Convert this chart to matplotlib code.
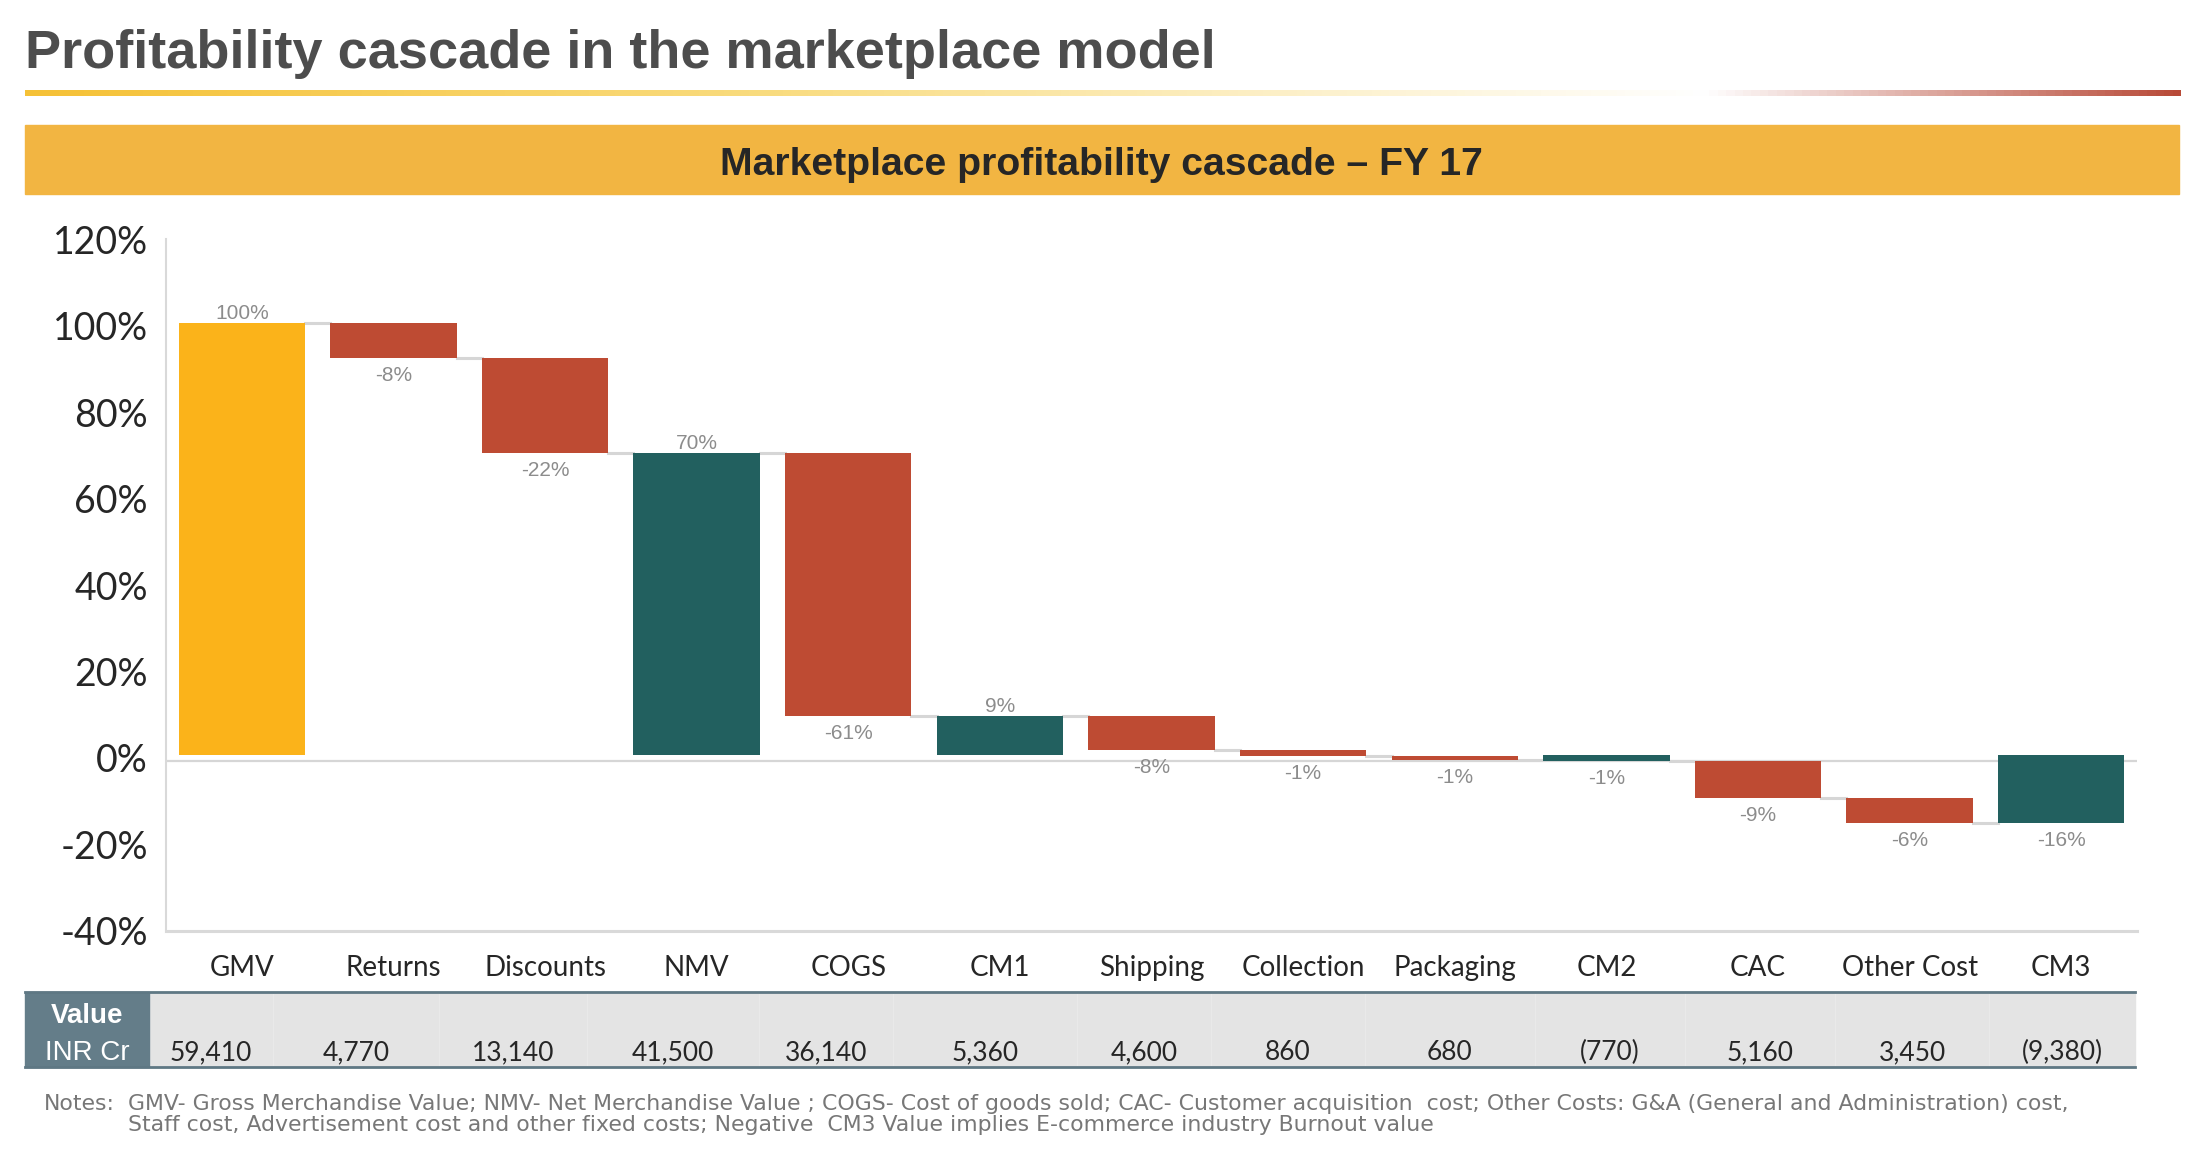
#Profitability cascade in the marketplace model (waterfall + value table)
import numpy as np
import matplotlib.pyplot as plt
from matplotlib.patches import Rectangle
from matplotlib.colors import LinearSegmentedColormap

#data
categories = ['GMV', 'Returns', 'Discounts', 'NMV', 'COGS', 'CM1', 'Shipping',
              'Collection', 'Packaging', 'CM2', 'CAC', 'Other Cost', 'CM3']
#share of GMV in %
pct = [100, -8.0, -22.1, 69.9, -60.8, 9.0, -7.7, -1.4, -1.1, -1.3, -8.7, -5.8, -15.8]
is_total = [True, False, False, True, False, True, False, False, False, True, False, False, True]
pct_labels = ['100%', '-8%', '-22%', '70%', '-61%', '9%', '-8%',
              '-1%', '-1%', '-1%', '-9%', '-6%', '-16%']
inr_values = ['59,410', '4,770', '13,140', '41,500', '36,140', '5,360', '4,600',
              '860', '680', '(770)', '5,160', '3,450', '(9,380)']
yticks = [-40, -20, 0, 20, 40, 60, 80, 100, 120]

title = 'Profitability cascade in the marketplace model'
banner = 'Marketplace profitability cascade \u2013 FY 17'
notes_1 = ('GMV- Gross Merchandise Value; NMV- Net Merchandise Value ; COGS- Cost of goods sold; '
           'CAC- Customer acquisition  cost; Other Costs: G&A (General and Administration) cost,')
notes_2 = 'Staff cost, Advertisement cost and other fixed costs; Negative  CM3 Value implies E-commerce industry Burnout value'

#in the original the bars sit slightly above the axis line
base = 0.6
axis_line = -0.8

#colours
yellow = '#FBB31A'
red = '#BE4B33'
teal = '#22605F'
grey_line = '#D6D6D6'
label_grey = '#8C8C8C'
dark = '#262626'

#figure in pixel units
W, H = 2204, 1150
fig = plt.figure(figsize=(W / 100, H / 100), dpi=100)
fig.patch.set_facecolor('white')

deco = fig.add_axes([0, 0, 1, 1])
deco.set_xlim(0, W)
deco.set_ylim(H, 0)
deco.axis('off')

#title and gradient rule under it
deco.text(25, 68, title, fontsize=39, fontweight='bold', color='#4D4D4D',
          family='Liberation Sans', va='baseline', ha='left')
grad_cmap = LinearSegmentedColormap.from_list(
    'rule', [(0.0, '#F5C136'), (0.35, '#F9DC80'), (0.55, '#FCEDBE'),
             (0.78, '#FFFFFF'), (1.0, '#B84A38')])
deco.imshow(np.linspace(0, 1, 512).reshape(1, -1), cmap=grad_cmap, aspect='auto',
            extent=[25, 2181, 96, 90], zorder=2)

#orange banner
deco.add_patch(Rectangle((25, 125), 2154, 69, color='#F2B542', zorder=1))
deco.text(1101, 175, banner, fontsize=28.2, fontweight='bold', color=dark,
          family='Liberation Sans', ha='center', va='baseline', zorder=3)

#value table below the chart
col_edges = [149, 273, 439, 587, 759, 893, 1077, 1211, 1365, 1535, 1685, 1835, 1989, 2135]
deco.add_patch(Rectangle((149, 992), 2135 - 149, 75, color='#E4E4E4', zorder=1))
deco.add_patch(Rectangle((25, 992), 149 - 25, 75, color='#647D89', zorder=1))
for xe in col_edges[1:-1]:
    deco.plot([xe, xe], [994, 1065], color='#E9E9E9', lw=1, zorder=2)
deco.plot([25, 2135], [992, 992], color='#5F7884', lw=2, zorder=3)
deco.plot([25, 2135], [1067, 1067], color='#5F7884', lw=2, zorder=3)
deco.text(87, 1023, 'Value', fontsize=20, fontweight='bold', color='white',
          family='Liberation Sans', ha='center', va='baseline', zorder=4)
deco.text(87, 1060, 'INR Cr', fontsize=20, color='white',
          family='Liberation Sans', ha='center', va='baseline', zorder=4)
for i, val in enumerate(inr_values):
    xc = (col_edges[i] + col_edges[i + 1]) / 2
    deco.text(xc, 1060, val, fontsize=19, color=dark, family='Lato',
              ha='center', va='baseline', zorder=4)

#notes
deco.text(44, 1110, 'Notes:', fontsize=15.8, color='#777777', family='DejaVu Sans', va='baseline')
deco.text(128, 1110, notes_1, fontsize=15.8, color='#777777', family='DejaVu Sans', va='baseline')
deco.text(128, 1131, notes_2, fontsize=15.8, color='#777777', family='DejaVu Sans', va='baseline')

#waterfall chart
ax = fig.add_axes([166 / W, 1 - 930.6 / H, (2137 - 166) / W, (930.6 - 239.4) / H])
ax.set_xlim(-0.5, len(categories) - 0.5)
ax.set_ylim(-40, 120)

starts, ends = [], []
level = 0
for v, tot in zip(pct, is_total):
    s = 0 if tot else level
    e = s + v
    starts.append(s)
    ends.append(e)
    level = e

x = np.arange(len(categories))
width = 0.834
colors = [yellow if i == 0 else (teal if t else red) for i, t in enumerate(is_total)]
bottoms = [base + min(s, e) for s, e in zip(starts, ends)]
heights = [abs(v) for v in pct]
ax.bar(x, heights, width=width, bottom=bottoms, color=colors, zorder=3)

#zero line and connectors
ax.axhline(axis_line, color=grey_line, lw=1.6, zorder=1)
for i in range(len(categories) - 1):
    y = base + ends[i]
    ax.plot([x[i] + width / 2, x[i + 1] - width / 2], [y, y], color=grey_line, lw=2.2, zorder=2)

#data labels
for i, lab in enumerate(pct_labels):
    if is_total[i] and pct[i] > 0:
        ax.annotate(lab, (x[i], base + ends[i]), xytext=(0, 4), textcoords='offset pixels',
                    ha='center', va='baseline', fontsize=15, color=label_grey,
                    family='Liberation Sans')
    else:
        ax.annotate(lab, (x[i], bottoms[i]), xytext=(0, -23), textcoords='offset pixels',
                    ha='center', va='baseline', fontsize=15, color=label_grey,
                    family='Liberation Sans')

#axes styling
for side in ['top', 'right']:
    ax.spines[side].set_visible(False)
ax.spines['left'].set_color('#D9D9D9')
ax.spines['left'].set_linewidth(1.5)
ax.spines['bottom'].set_color('#D9D9D9')
ax.spines['bottom'].set_linewidth(2.2)
ax.set_yticks(yticks)
ax.set_yticklabels([f'{t}%' for t in yticks], fontsize=27, color=dark, family='Lato')
ax.tick_params(axis='y', length=0, pad=13)
ax.set_xticks([])
for i, c in enumerate(categories):
    ax.text(x[i], -0.0657, c, transform=ax.get_xaxis_transform(), ha='center',
            va='baseline', fontsize=20, color=dark, family='Lato')

fig.savefig('out.png', dpi=100)
